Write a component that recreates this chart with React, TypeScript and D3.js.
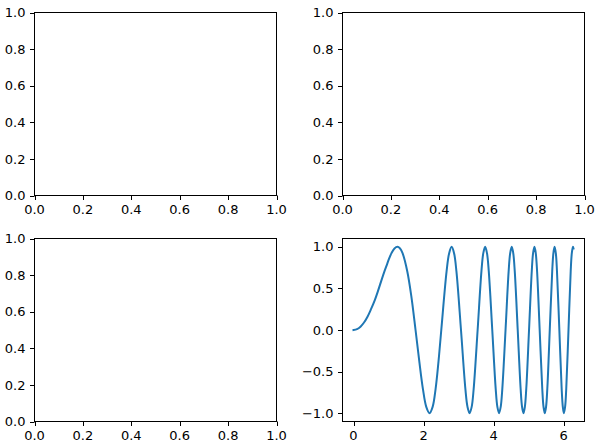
import React from "react";
import * as d3 from "d3";

const W = 602;
const H = 446;

// Empty panels: tick values
const unitTicks = [0, 0.2, 0.4, 0.6, 0.8, 1.0];
// Bottom-right panel ticks
const curveXTicks = [0, 2, 4, 6];
const curveYTicks = [-1.0, -0.5, 0.0, 0.5, 1.0];

// Curve samples (x, y)
const curveX = [
  0, 0.1, 0.2, 0.3, 0.4, 0.5, 0.6, 0.7, 0.8, 0.886, 0.95, 1.0, 1.085, 1.17, 1.253, 1.33, 1.401,
  1.535, 1.65, 1.772, 1.88, 1.982, 2.078, 2.171, 2.26, 2.345, 2.427, 2.507, 2.659, 2.732, 2.803,
  2.872, 2.939, 3.07, 3.195, 3.256, 3.316, 3.375, 3.432, 3.545, 3.654, 3.707, 3.76, 3.812, 3.863,
  3.963, 4.061, 4.109, 4.157, 4.204, 4.25, 4.342, 4.431, 4.475, 4.519, 4.562, 4.605, 4.69, 4.773,
  4.814, 4.854, 4.894, 4.934, 5.013, 5.091, 5.129, 5.168, 5.205, 5.243, 5.317, 5.391, 5.427,
  5.463, 5.499, 5.535, 5.605, 5.675, 5.709, 5.742, 5.778, 5.811, 5.879, 5.945, 5.978, 6.008,
  6.043, 6.076, 6.14, 6.203, 6.235, 6.267, 6.283,
];
const curveY = [
  0, 0.01, 0.04, 0.09, 0.16, 0.25, 0.35, 0.47, 0.6, 0.707, 0.78, 0.84, 0.924, 0.98, 1.0, 0.98, 0.924,
  0.707, 0.41, 0, -0.38, -0.707, -0.924, -1.0, -0.924, -0.707, -0.38, 0, 0.707, 0.924, 1.0,
  0.924, 0.707, 0, -0.707, -0.924, -1.0, -0.924, -0.707, 0, 0.707, 0.924, 1.0, 0.924, 0.707,
  0, -0.707, -0.924, -1.0, -0.924, -0.707, 0, 0.707, 0.924, 1.0, 0.924, 0.707, 0, -0.707,
  -0.924, -1.0, -0.924, -0.707, 0, 0.707, 0.924, 1.0, 0.924, 0.707, 0, -0.707, -0.924,
  -1.0, -0.924, -0.707, 0, 0.707, 0.924, 1.0, 0.924, 0.707, 0, -0.707, -0.924, -1.0,
  -0.924, -0.707, 0, 0.707, 0.924, 1.0, 0.98,
];

const FONT = "DejaVu Sans, sans-serif";
const FS = 13;
const TICK = 4.5;
const PAD = 4.5;

const fmt1 = (v: number) => d3.format(".1f")(v).replace("-", "\u2212");
const fmt0 = (v: number) => d3.format("d")(v);

type PanelProps = {
  x0: number; x1: number; y0: number; y1: number;
  xDomain: [number, number]; yDomain: [number, number];
  xTicks: number[]; yTicks: number[];
  xFmt: (v: number) => string; yFmt: (v: number) => string;
  children?: (xs: d3.ScaleLinear<number, number>, ys: d3.ScaleLinear<number, number>) => React.ReactNode;
};

function Panel({ x0, x1, y0, y1, xDomain, yDomain, xTicks, yTicks, xFmt, yFmt, children }: PanelProps) {
  const xs = d3.scaleLinear().domain(xDomain).range([x0, x1]);
  const ys = d3.scaleLinear().domain(yDomain).range([y1, y0]);
  return (
    <g>
      {children ? children(xs, ys) : null}
      <rect x={x0} y={y0} width={x1 - x0} height={y1 - y0} fill="none" stroke="#000" strokeWidth={1} />
      {xTicks.map((t) => (
        <g key={"x" + t}>
          <line x1={Math.round(xs(t)) + 0.5} x2={Math.round(xs(t)) + 0.5} y1={y1} y2={y1 + TICK} stroke="#000" strokeWidth={1} />
          <text x={xs(t)} y={y1 + TICK + PAD} dy="0.76em" textAnchor="middle" fontFamily={FONT} fontSize={FS} fill="#000">{xFmt(t)}</text>
        </g>
      ))}
      {yTicks.map((t) => (
        <g key={"y" + t}>
          <line x1={x0 - TICK} x2={x0} y1={Math.round(ys(t)) + 0.5} y2={Math.round(ys(t)) + 0.5} stroke="#000" strokeWidth={1} />
          <text x={x0 - TICK - PAD} y={ys(t)} dy="0.36em" textAnchor="end" fontFamily={FONT} fontSize={FS} fill="#000">{yFmt(t)}</text>
        </g>
      ))}
    </g>
  );
}

export default function App() {
  const pts: [number, number][] = curveX.map((x, i) => [x, curveY[i]]);
  const xMin = d3.min(curveX) as number;
  const xMax = d3.max(curveX) as number;
  const yMin = -1, yMax = 1;
  const xPad = (xMax - xMin) * 0.05;
  const yPad = (yMax - yMin) * 0.05;

  const L = [34.5, 276.5];
  const R = [342.5, 584.5];
  const T = [12.5, 195.5];
  const B = [238.5, 421.5];

  return (
    <svg width={W} height={H} style={{ position: "absolute", left: 0, top: 0, background: "#fff" }}>
      <rect x={0} y={0} width={W} height={H} fill="#fff" />
      <Panel x0={L[0]} x1={L[1]} y0={T[0]} y1={T[1]} xDomain={[0, 1]} yDomain={[0, 1]} xTicks={unitTicks} yTicks={unitTicks} xFmt={fmt1} yFmt={fmt1} />
      <Panel x0={R[0]} x1={R[1]} y0={T[0]} y1={T[1]} xDomain={[0, 1]} yDomain={[0, 1]} xTicks={unitTicks} yTicks={unitTicks} xFmt={fmt1} yFmt={fmt1} />
      <Panel x0={L[0]} x1={L[1]} y0={B[0]} y1={B[1]} xDomain={[0, 1]} yDomain={[0, 1]} xTicks={unitTicks} yTicks={unitTicks} xFmt={fmt1} yFmt={fmt1} />
      <Panel x0={R[0]} x1={R[1]} y0={B[0]} y1={B[1]}
        xDomain={[xMin - xPad, xMax + xPad]} yDomain={[yMin - yPad, yMax + yPad]}
        xTicks={curveXTicks} yTicks={curveYTicks} xFmt={fmt0} yFmt={fmt1}>
        {(xs, ys) => {
          const line = d3.line<[number, number]>()
            .x((d) => xs(d[0]))
            .y((d) => ys(d[1]))
            .curve(d3.curveCatmullRom.alpha(0.5));
          return <path d={line(pts) || ""} fill="none" stroke="#1f77b4" strokeWidth={2} strokeLinecap="square" strokeLinejoin="round" />;
        }}
      </Panel>
    </svg>
  );
}
